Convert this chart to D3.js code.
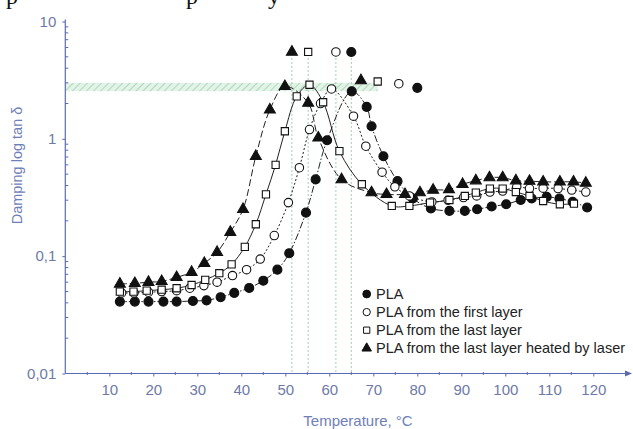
<!DOCTYPE html>
<html><head><meta charset="utf-8">
<script src="https://cdn.jsdelivr.net/npm/d3@7"></script>
<style>body{margin:0;background:#fff}svg{display:block}</style>
</head><body><svg id="c" width="633" height="429"></svg>
<script>
// ---- data ----
const xTicks = [10,20,30,40,50,60,70,80,90,100,110,120];
const yTicks = [0.01,0.1,1,10];
const yTickLabels = ["0,01","0,1","1","10"];
const seriesNames = ["PLA","PLA from the first layer","PLA from the last layer","PLA from the last layer heated by laser"];

const plaT = [12.4,15.8,18.9,22.3,25.3,29.0,32.1,35.3,38.4,41.8,45.0,48.2,50.9,54.7,56.9,59.5,65.1,68.5,69.6,72.3,75.5,79.0,83.1,87.3,90.8,93.6,96.9,100.2,103.5,106.0,109.4,112.3,115.3,118.6];
const plaV = [0.041,0.041,0.041,0.041,0.041,0.0415,0.042,0.0447,0.0486,0.0536,0.0618,0.0767,0.106,0.235,0.451,0.973,2.54,1.87,1.28,0.711,0.436,0.31,0.255,0.243,0.243,0.251,0.265,0.277,0.301,0.31,0.32,0.31,0.29,0.26];

const firstT = [12.8,15.6,18.9,21.9,25.3,28.3,31.5,34.5,38.0,41.2,44.3,47.5,50.7,53.2,55.5,58.0,60.5,65.5,68.3,72.0,74.9,78.2,83.3,87.0,90.5,93.5,96.5,99.4,102.6,105.5,108.6,112.0,115.1,118.3];
const firstV = [0.0486,0.0486,0.0493,0.0499,0.0508,0.0533,0.0561,0.06,0.0683,0.0767,0.0945,0.15,0.286,0.567,1.2,2.0,2.66,1.56,0.865,0.52,0.39,0.326,0.29,0.3,0.316,0.326,0.352,0.359,0.39,0.377,0.38,0.377,0.366,0.352];

const lastT = [12.4,15.5,18.5,21.9,25.3,28.7,31.8,35.0,37.8,40.8,43.3,45.6,47.8,49.9,52.6,55.5,58.6,62.3,67.4,74.2,78.2,82.9,87.3,90.8,93.3,96.5,99.4,102.4,105.5,108.6,112.4,115.6];
const lastV = [0.0499,0.0499,0.0508,0.0518,0.0533,0.0568,0.0628,0.0716,0.0852,0.12,0.187,0.336,0.6,1.16,2.3,2.89,2.05,0.785,0.41,0.268,0.268,0.286,0.301,0.326,0.348,0.377,0.377,0.352,0.326,0.295,0.277,0.28];

const heatT = [12.4,15.8,18.9,21.9,25.3,28.7,31.6,34.5,37.5,40.4,43.3,46.5,49.9,55.2,57.5,62.8,69.6,73.0,77.2,80.6,83.6,87.2,90.3,93.3,96.4,99.4,102.4,105.5,108.6,112.4,115.5,118.3];
const heatV = [0.058,0.0587,0.06,0.061,0.066,0.073,0.087,0.108,0.16,0.251,0.71,1.77,2.8,2.02,1.02,0.45,0.348,0.336,0.336,0.348,0.366,0.37,0.41,0.44,0.467,0.467,0.44,0.436,0.43,0.43,0.43,0.42];

// peak temperatures marked at the top, and tan delta max markers at right
const peakT = [65.0, 61.5, 55.2, 51.5];      // PLA, first, last, heated
const peakMarkV = 5.5;
const maxT = [80.0, 75.8, 71.0, 67.2];
const maxV = [2.72, 2.95, 3.08, 3.14];
const bandV = [2.55, 3.0];
const bandEndT = 71;

// ---- drawing ----
const svg = d3.select("#c");
const W = 633, H = 429;
const x = d3.scaleLinear().domain([0,120]).range([65.3,593.3]);
const y = d3.scaleLog().domain([0.01,10]).range([373.5,21.5]);
const axisCol = "#5b6bb3", labCol = "#6e7aa6";
const font = "'Liberation Sans', Arial, sans-serif";

svg.append("rect").attr("width",W).attr("height",H).attr("fill","#fff");

// clipped line of text from the page above
svg.append("g").attr("font-family","'Liberation Serif','Times New Roman',serif").attr("font-size",24).attr("fill","#111")
  .selectAll("text").data([["p",6],["p",186],["y",268]]).join("text")
  .attr("x",d=>d[1]).attr("y",4).text(d=>d[0]);

const defs = svg.append("defs");
const pat = defs.append("pattern").attr("id","hatch").attr("patternUnits","userSpaceOnUse")
  .attr("width",5).attr("height",5).attr("patternTransform","rotate(45)");
pat.append("rect").attr("width",5).attr("height",5).attr("fill","#e3f3e8");
pat.append("line").attr("x1",0).attr("y1",0).attr("x2",0).attr("y2",5).attr("stroke","#9fd2b0").attr("stroke-width",1.6);

// band
svg.append("rect").attr("x",x(0)).attr("y",y(bandV[1])).attr("width",x(bandEndT)-x(0))
  .attr("height",y(bandV[0])-y(bandV[1])).attr("fill","url(#hatch)");

// vertical dotted lines at peak temperatures
svg.append("g").selectAll("line").data(peakT).join("line")
  .attr("x1",d=>x(d)).attr("x2",d=>x(d)).attr("y1",y(peakMarkV)+6).attr("y2",y(0.01))
  .attr("stroke","#a9c9b3").attr("stroke-width",1).attr("stroke-dasharray","2,2");

// axes
const xa = svg.append("g").attr("transform",`translate(0,${y(0.01)})`)
  .call(d3.axisBottom(x).tickValues(xTicks).tickSize(3).tickPadding(8));
xa.select(".domain").remove();
xa.selectAll("line").attr("stroke",axisCol);
xa.selectAll("text").attr("fill",labCol).attr("font-size",15).attr("font-family",font);
svg.append("g").selectAll("line").data(d3.range(5,125,10)).join("line")
  .attr("x1",d=>x(d)).attr("x2",d=>x(d)).attr("y1",y(0.01)-1.5).attr("y2",y(0.01)+1.5).attr("stroke",axisCol);
svg.append("line").attr("x1",x(0)).attr("x2",629).attr("y1",y(0.01)).attr("y2",y(0.01)).attr("stroke",axisCol).attr("stroke-width",1.2);
svg.append("path").attr("d",`M632,${y(0.01)} l-7,-3 l0,6 z`).attr("fill",axisCol);

const ya = svg.append("g").attr("transform",`translate(${x(0)},0)`)
  .call(d3.axisLeft(y).tickValues(yTicks).tickFormat((d,i)=>yTickLabels[i]).tickSize(3).tickPadding(6));
ya.select(".domain").remove();
ya.selectAll("line").attr("stroke",axisCol);
ya.selectAll("text").attr("fill",labCol).attr("font-size",15).attr("font-family",font);
const minor = [];
[0.01,0.1,1].forEach(dec=>{for(let k=2;k<=9;k++)minor.push(dec*k);});
svg.append("g").selectAll("line").data(minor).join("line")
  .attr("x1",x(0)).attr("x2",x(0)+3).attr("y1",d=>y(d)).attr("y2",d=>y(d)).attr("stroke",axisCol);
svg.append("line").attr("x1",x(0)).attr("x2",x(0)).attr("y1",y(10)-2).attr("y2",y(0.01)).attr("stroke",axisCol).attr("stroke-width",1.2);

svg.append("text").attr("transform",`translate(22,${(y(10)+y(0.01))/2-32}) rotate(-90)`)
  .attr("text-anchor","middle").attr("fill","#6f80b8").attr("font-size",14.5).attr("font-family",font)
  .text("Damping log tan δ");
svg.append("text").attr("x",358).attr("y",426).attr("text-anchor","middle").attr("fill","#6f80b8")
  .attr("font-size",15).attr("font-family",font).text("Temperature, °C");

// series
const series = [
  {T:plaT,V:plaV,sym:d3.symbolCircle,size:64,fill:"#111",dash:"7,2,1.5,2"},
  {T:firstT,V:firstV,sym:d3.symbolCircle,size:56,fill:"#fff",dash:"2,2"},
  {T:lastT,V:lastV,sym:d3.symbolSquare,size:52,fill:"#fff",dash:null},
  {T:heatT,V:heatV,sym:d3.symbolTriangle,size:52,fill:"#111",dash:"7,3"}
];
const line = d3.line().x(d=>x(d[0])).y(d=>y(d[1])).curve(d3.curveCatmullRom.alpha(0.5));
series.forEach(s=>{
  const pts = s.T.map((t,i)=>[t,s.V[i]]);
  svg.append("path").attr("d",line(pts)).attr("fill","none").attr("stroke","#222").attr("stroke-width",1)
    .attr("stroke-dasharray",s.dash);
});
function marks(s, pts){
  svg.append("g").selectAll("path").data(pts).join("path")
    .attr("transform",d=>`translate(${x(d[0])},${y(d[1])})`)
    .attr("d",d3.symbol().type(s.sym).size(s.size))
    .attr("fill",s.fill).attr("stroke","#111").attr("stroke-width",1.1);
}
series.forEach((s,k)=>{
  marks(s, s.T.map((t,i)=>[t,s.V[i]]));
  marks(s, [[peakT[k],peakMarkV]]);
  marks(s, [[maxT[k],maxV[k]]]);
});

// legend
const lg = svg.append("g");
seriesNames.forEach((n,i)=>{
  const yy = 294 + i*18.1;
  lg.append("path").attr("transform",`translate(366.7,${yy})`)
    .attr("d",d3.symbol().type(series[i].sym).size(series[i].size*0.75))
    .attr("fill",series[i].fill).attr("stroke","#111").attr("stroke-width",1);
  lg.append("text").attr("x",376).attr("y",yy+5).attr("font-size",14.5).attr("font-family",font)
    .attr("fill","#222").text(n);
});
</script></body></html>
